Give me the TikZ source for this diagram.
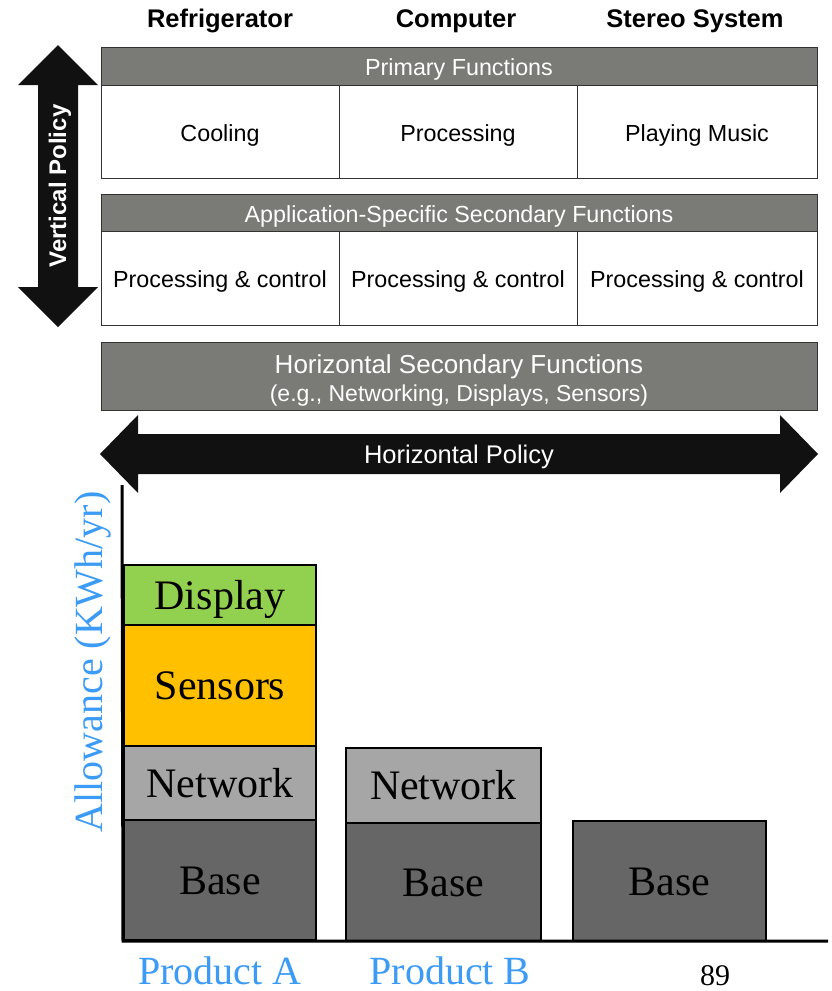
\documentclass[tikz,border=0pt]{standalone}
\usepackage{fontspec}
\setmainfont{Liberation Serif}
\setsansfont{Liberation Sans}
\definecolor{barg}{RGB}{122,122,118}
\definecolor{dispg}{RGB}{146,208,80}
\definecolor{sensor}{RGB}{255,192,0}
\definecolor{netg}{RGB}{166,166,166}
\definecolor{baseg}{RGB}{102,102,102}
\definecolor{axblue}{RGB}{60,155,245}
\definecolor{arrowblk}{RGB}{17,17,17}
\begin{document}
\begin{tikzpicture}[x=1pt,y=-1pt,
  hdr/.style={font=\sffamily\bfseries\fontsize{25.5}{30}\selectfont, inner sep=0pt},
  graybar/.style={draw=black!80, line width=1pt, fill=barg, text=white, font=\sffamily\fontsize{23.3}{27}\selectfont, inner sep=0pt, text height=19pt, text depth=0pt},
  cell/.style={draw=black!80, line width=1pt, fill=white, font=\sffamily\fontsize{23.3}{27}\selectfont, inner sep=0pt, text height=19pt, text depth=0pt},
  blk/.style={draw=black, line width=2.5pt, font=\fontsize{42}{46}\selectfont, inner sep=0pt, text height=28pt, text depth=0pt},
  bigarrow/.style={fill=arrowblk, draw=none},
  arrowtext/.style={text=white, font=\sffamily\fontsize{25.5}{30}\selectfont, inner sep=0pt},
  bluelabel/.style={text=axblue, font=\fontsize{40}{44}\selectfont, inner sep=0pt},
]
\useasboundingbox (0,0) rectangle (831,991);
% column headers
\node[hdr] (hRef) at (220,21) {Refrigerator};
\node[hdr] (hComp) at (456,21) {Computer};
\node[hdr] (hSter) at (695,21) {Stereo System};
% primary functions
\node[graybar, minimum width=716, minimum height=38] (prim) at (459,66) {Primary Functions};
\node[cell, minimum width=238, minimum height=93] (c11) at (220,131.5) {Cooling};
\node[cell, minimum width=238, minimum height=93] (c12) at (458,131.5) {Processing};
\node[cell, minimum width=240, minimum height=93] (c13) at (697,131.5) {Playing Music};
% application specific
\node[graybar, minimum width=716, minimum height=37] (app) at (459,212.5) {Application-Specific Secondary Functions};
\node[cell, minimum width=238, minimum height=94] (c21) at (220,278) {Processing \& control};
\node[cell, minimum width=238, minimum height=94] (c22) at (458,278) {Processing \& control};
\node[cell, minimum width=240, minimum height=94] (c23) at (697,278) {Processing \& control};
% horizontal secondary
\node[graybar, minimum width=716, minimum height=68] (hsf) at (459,376) {};
\node[text=white, inner sep=0pt, align=center, font=\sffamily] (hsftext) at (459,380)
  {{\fontsize{26}{30}\selectfont Horizontal Secondary Functions}\\[5pt]{\fontsize{23}{27}\selectfont (e.g., Networking, Displays, Sensors)}};
% horizontal policy arrow
\path[bigarrow] (100,454) -- (138,415) -- (138,434) -- (780,434) -- (780,415) -- (818,454)
  -- (780,493) -- (780,474) -- (138,474) -- (138,493) -- cycle;
\node[arrowtext] (hpol) at (459,457) {Horizontal Policy};
% vertical policy arrow
\path[bigarrow] (58,45) -- (98,85) -- (78,85) -- (78,287) -- (98,287) -- (58,327)
  -- (18,287) -- (38,287) -- (38,85) -- (18,85) -- cycle;
\node[arrowtext, font=\sffamily\bfseries\fontsize{24}{28}\selectfont, rotate=90] (vpol) at (60,186) {Vertical Policy};
% bars product A
\node[blk, fill=dispg, minimum width=192, minimum height=60] (dispA) at (220,595) {Display};
\node[blk, fill=sensor, minimum width=192, minimum height=121] (sensA) at (220,685.5) {Sensors};
\node[blk, fill=netg, minimum width=192, minimum height=74] (netA) at (220,783) {Network};
\node[blk, fill=baseg, minimum width=192, minimum height=120] (baseA) at (220,880) {Base};
% product B
\node[blk, fill=netg, minimum width=195, minimum height=75] (netB) at (443.5,785.5) {Network};
\node[blk, fill=baseg, minimum width=195, minimum height=118] (baseB) at (443.5,882) {Base};
% product C
\node[blk, fill=baseg, minimum width=193, minimum height=120] (baseC) at (669.5,881) {Base};
% axes
\coordinate (ytop) at (122,485);
\coordinate (orig) at (123,941);
\coordinate (xend) at (828,941);
\draw[line width=3pt] (ytop) -- (orig) -- (xend);
% labels
\node[bluelabel, rotate=90] (ylab) at (93,662) {Allowance (KWh/yr)};
\node[bluelabel, anchor=base, text depth=0pt] (pA) at (220,984) {Product A};
\node[bluelabel, anchor=base, text depth=0pt] (pB) at (450,984) {Product B};
\node[inner sep=0pt, anchor=north, font=\fontsize{30}{34}\selectfont] (pg) at (715,965) {89};
\end{tikzpicture}
\end{document}
